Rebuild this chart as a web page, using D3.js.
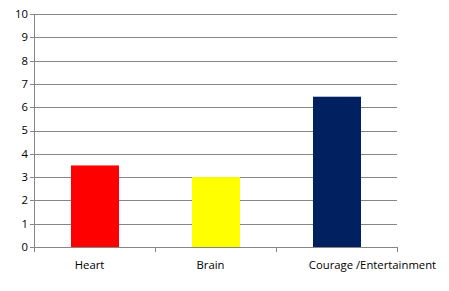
<!DOCTYPE html>
<html>
<head>
<meta charset="utf-8">
<style>
  body { margin: 0; background: #fff; }
  svg text { font-family: "Open Sans", "Noto Sans", sans-serif; font-size: 11.3px; fill: #000; }
</style>
</head>
<body>
<svg id="chart" width="449" height="291"></svg>
<script src="https://d3js.org/d3.v7.min.js"></script>
<script>
// chart data
var categories = ["Heart", "Brain", "Courage /Entertainment"];
var values = [3.5, 3.0, 6.45];
var barColors = ["#ff0000", "#ffff00", "#002060"];
var yTicks = [0, 1, 2, 3, 4, 5, 6, 7, 8, 9, 10];

var margin = {top: 14, right: 52, bottom: 44, left: 34},
    width = 449 - margin.left - margin.right,
    height = 291 - margin.top - margin.bottom;

var svg = d3.select("#chart")
  .append("g")
    .attr("transform", "translate(" + margin.left + "," + margin.top + ")");

var x = d3.scaleBand().domain(categories).range([0, width]);
var y = d3.scaleLinear().domain([0, 10]).range([height, 0]);

// gridlines
svg.selectAll("line.grid")
  .data(yTicks)
  .enter().append("line")
    .attr("class", "grid")
    .attr("x1", -4)
    .attr("x2", width)
    .attr("y1", function(d) { return Math.round(y(d)) + 0.5; })
    .attr("y2", function(d) { return Math.round(y(d)) + 0.5; })
    .attr("stroke", "#868686")
    .attr("stroke-width", 1);

// y labels
svg.selectAll("text.ylab")
  .data(yTicks)
  .enter().append("text")
    .attr("class", "ylab")
    .attr("x", -6)
    .attr("y", function(d) { return y(d); })
    .attr("dy", "0.35em")
    .attr("text-anchor", "end")
    .text(function(d) { return d; });

// y axis line
svg.append("line")
  .attr("x1", 0.5).attr("x2", 0.5)
  .attr("y1", 0).attr("y2", height)
  .attr("stroke", "#868686");

// x tick marks at band edges
var edges = categories.map(function(c) { return x(c); }).concat([width]);
svg.selectAll("line.xtick")
  .data(edges)
  .enter().append("line")
    .attr("class", "xtick")
    .attr("x1", function(d) { return Math.round(d) + 0.5; })
    .attr("x2", function(d) { return Math.round(d) + 0.5; })
    .attr("y1", height)
    .attr("y2", height + 5)
    .attr("stroke", "#868686");

// bars
var barW = 48;
svg.selectAll("rect.bar")
  .data(values)
  .enter().append("rect")
    .attr("class", "bar")
    .attr("x", function(d, i) { return Math.round(x(categories[i]) + x.bandwidth() / 2 - barW / 2); })
    .attr("width", barW)
    .attr("y", function(d) { return y(d); })
    .attr("height", function(d) { return height - y(d); })
    .attr("fill", function(d, i) { return barColors[i]; });

// x labels (the long last label is pushed right, as in the original)
svg.selectAll("text.xlab")
  .data(categories)
  .enter().append("text")
    .attr("class", "xlab")
    .attr("x", function(d, i) {
      var c = x(d) + x.bandwidth() / 2;
      return i === categories.length - 1 ? c + 36 : c - 5;
    })
    .attr("y", height + 22)
    .attr("text-anchor", "middle")
    .text(function(d) { return d; });
</script>
</body>
</html>
